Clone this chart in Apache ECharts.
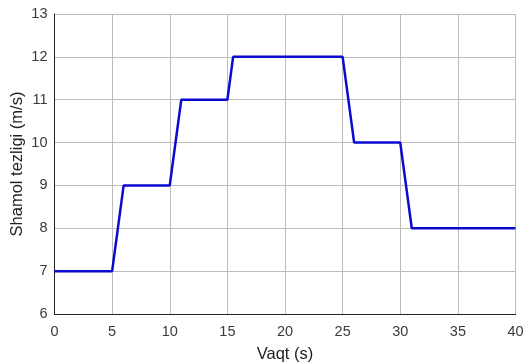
<!DOCTYPE html>
<html>
<head>
<meta charset="utf-8">
<script src="https://cdn.jsdelivr.net/npm/echarts@6/dist/echarts.min.js"></script>
<style>html,body{margin:0;padding:0;background:#fff;}#chart{width:526px;height:362px;}</style>
</head>
<body>
<div id="chart"></div>
<script>
const timeValues = [0, 5, 6, 10, 11, 15, 15.5, 25, 26, 30, 31, 40];
const speedValues = [7, 7, 9, 9, 11, 11, 12, 12, 10, 10, 8, 8];
const xTicks = [0, 5, 10, 15, 20, 25, 30, 35, 40];
const yTicks = [6, 7, 8, 9, 10, 11, 12, 13];
const xTitle = 'Vaqt (s)';
const yTitle = 'Shamol tezligi (m/s)';

const chart = echarts.init(document.getElementById('chart'), null, {renderer: 'canvas'});
const font = 'Liberation Sans, Arial, sans-serif';
chart.setOption({
  animation: false,
  backgroundColor: '#fff',
  grid: {left: 54.5, right: 10.5, top: 14, bottom: 48, containLabel: false, outerBoundsMode: 'none'},
  xAxis: {
    type: 'value', min: xTicks[0], max: xTicks[xTicks.length - 1], interval: 5,
    name: xTitle, nameLocation: 'middle', nameGap: 31.5,
    nameTextStyle: {fontFamily: font, fontSize: 16.5, color: '#222'},
    axisLine: {show: true, lineStyle: {color: '#222', width: 1}},
    axisTick: {show: false},
    axisLabel: {fontFamily: font, fontSize: 14.5, color: '#3a3a3a', margin: 10},
    splitLine: {show: true, lineStyle: {color: '#bdbdbd', width: 1}}
  },
  yAxis: {
    type: 'value', min: yTicks[0], max: yTicks[yTicks.length - 1], interval: 1,
    name: yTitle, nameLocation: 'middle', nameGap: 29, nameRotate: 90, nameMoveOverlap: false,
    nameTextStyle: {fontFamily: font, fontSize: 16.5, color: '#222'},
    axisLine: {show: true, lineStyle: {color: '#222', width: 1}},
    axisTick: {show: false},
    axisLabel: {fontFamily: font, fontSize: 14.5, color: '#3a3a3a', margin: 7},
    splitLine: {show: true, lineStyle: {color: '#bdbdbd', width: 1}}
  },
  series: [{
    type: 'line',
    data: timeValues.map((t, i) => [t, speedValues[i]]),
    showSymbol: false,
    lineStyle: {color: '#0a0ad0', width: 2.5},
    itemStyle: {color: '#0a0ad0'}
  }]
});
</script>
</body>
</html>
